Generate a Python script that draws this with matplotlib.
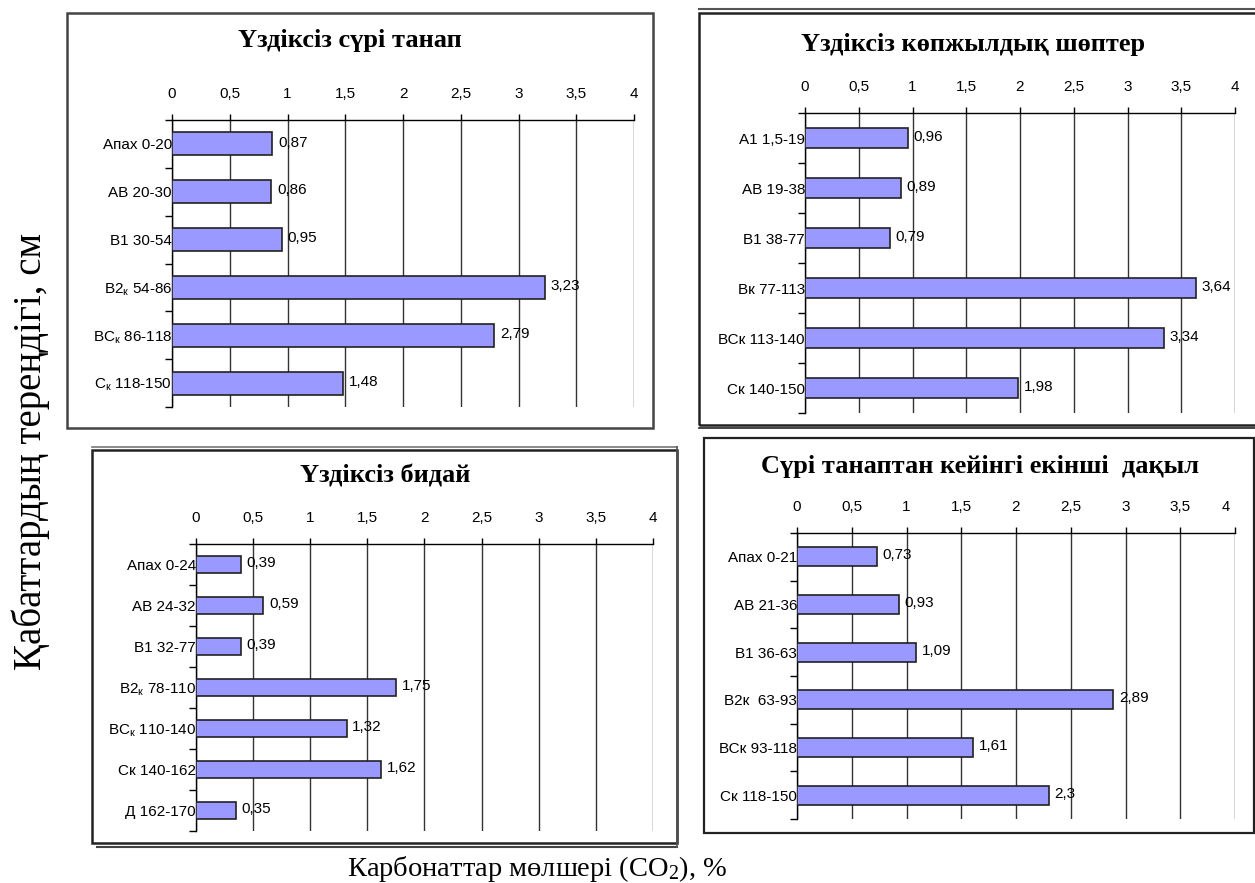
import matplotlib
matplotlib.use("Agg")
import matplotlib.pyplot as plt
from matplotlib.patches import Rectangle
from matplotlib.lines import Line2D
from matplotlib.ticker import FixedLocator

# ---------------- data ----------------
titles = ["Үздіксіз сүрі танап",
          "Үздіксіз көпжылдық шөптер",
          "Үздіксіз бидай",
          "Сүрі танаптан кейінгі екінші  дақыл"]

cats1 = ["Апах 0-20", "АВ 20-30", "В1 30-54", r"В2$_\mathregular{к}$ 54-86",
         r"ВС$_\mathregular{к}$ 86-118", r"С$_\mathregular{к}$ 118-150"]
vals1 = [0.87, 0.86, 0.95, 3.23, 2.79, 1.48]

cats2 = ["А1 1,5-19", "АВ 19-38", "В1 38-77", "Вк 77-113", "ВСк 113-140", "Ск 140-150"]
vals2 = [0.96, 0.89, 0.79, 3.64, 3.34, 1.98]

cats3 = ["Апах 0-24", "АВ 24-32", "В1 32-77", r"В2$_\mathregular{к}$ 78-110",
         r"ВС$_\mathregular{к}$ 110-140", "Ск 140-162", "Д 162-170"]
vals3 = [0.39, 0.59, 0.39, 1.75, 1.32, 1.62, 0.35]

cats4 = ["Апах 0-21", "АВ 21-36", "В1 36-63", "В2к  63-93", "ВСк 93-118", "Ск 118-150"]
vals4 = [0.73, 0.93, 1.09, 2.89, 1.61, 2.3]

xticks = [0, 0.5, 1, 1.5, 2, 2.5, 3, 3.5, 4]
xticklabels = ["0", "0,5", "1", "1,5", "2", "2,5", "3", "3,5", "4"]

ylabel = "Қабаттардың тереңдігі, см"
xlabel = "Карбонаттар мөлшері (CO$_2$), %"

# ---------------- layout ----------------
W, H = 1255, 883
fig = plt.figure(figsize=(W / 100, H / 100), dpi=100)
fig.patch.set_facecolor("white")

SANS = ["Liberation Sans", "DejaVu Sans"]
SERIF = ["Liberation Serif", "DejaVu Serif"]
plt.rcParams["mathtext.fontset"] = "custom"
plt.rcParams["mathtext.rm"] = "Liberation Sans"
plt.rcParams["mathtext.default"] = "regular"

FS = 11


def px_rect(x0, y0, x1, y1):
    return [x0 / W, 1 - y1 / H, (x1 - x0) / W, (y1 - y0) / H]


def fig_line(x0, y0, x1, y1, color="black", lw=1.5):
    fig.add_artist(Line2D([x0 / W, x1 / W], [1 - y0 / H, 1 - y1 / H],
                          transform=fig.transFigure, color=color, lw=lw))


def fig_box(x0, y0, x1, y1, color="black", lw=1.5):
    fig.add_artist(Rectangle((x0 / W, 1 - y1 / H), (x1 - x0) / W, (y1 - y0) / H,
                             transform=fig.transFigure, fill=False,
                             edgecolor=color, lw=lw))


# frames
fig_box(67, 13, 653, 428, color="#444444", lw=1.8)
fig_box(699, 13, 1258, 425, color="#222222", lw=1.8)
fig_line(699, 9, 1255, 9, color="#555555", lw=1.5)
fig_line(699, 428, 1255, 428, color="#222222", lw=1.2)
fig_box(92, 450, 677, 843, color="#222222", lw=1.8)
fig_line(92, 447, 677, 447, color="#777777", lw=1.2)
fig_line(97, 847, 677, 847, color="#444444", lw=1.5)
fig_line(677, 447, 677, 847, color="#555555", lw=1.2)
fig_box(704, 438, 1254, 833, color="#222222", lw=1.6)

panels = [
    dict(rect=px_rect(172, 120, 634, 407), cats=cats1, vals=vals1, title=titles[0],
         bh=0.48, title_xy=(350, 40)),
    dict(rect=px_rect(805, 113, 1235, 413), cats=cats2, vals=vals2, title=titles[1],
         bh=0.4, title_xy=(973, 44)),
    dict(rect=px_rect(196, 544, 653, 831), cats=cats3, vals=vals3, title=titles[2],
         bh=0.42, title_xy=(385, 476)),
    dict(rect=px_rect(797, 533, 1235, 819), cats=cats4, vals=vals4, title=titles[3],
         bh=0.4, title_xy=(980, 466)),
]

for i, p in enumerate(panels):
    ax = fig.add_axes(p["rect"])
    n = len(p["cats"])
    ypos = list(range(n))
    ax.barh(ypos, p["vals"], height=p["bh"], color="#9999FF",
            edgecolor="#222222", linewidth=1.2, zorder=3)
    ax.set_xlim(0, 4)
    ax.set_ylim(n - 0.5, -0.5)

    # x axis on top
    ax.xaxis.tick_top()
    ax.set_xticks(xticks)
    if i == 3:
        ax.set_xticklabels(xticklabels[:-1] + [""])
        ax.annotate("4", xy=(4, 1), xycoords=("data", "axes fraction"),
                    xytext=(-7, 19), textcoords="offset points",
                    ha="center", va="center", fontsize=FS - 0.5, family=SANS)
    else:
        ax.set_xticklabels(xticklabels)
    ax.tick_params(axis="x", which="major", direction="out", length=4,
                   width=1, pad=10, labelsize=FS, top=True, bottom=False)
    for lab in ax.get_xticklabels():
        lab.set_family(SANS)
    ax.grid(axis="x", color="#333333", lw=1.0, zorder=0)

    # y axis
    ax.set_yticks(ypos)
    ax.set_yticklabels(p["cats"])
    for lab in ax.get_yticklabels():
        lab.set_family(SANS)
    ax.yaxis.set_minor_locator(FixedLocator([k - 0.5 for k in range(n + 1)]))
    ax.tick_params(axis="y", which="major", length=0, pad=0, labelsize=FS)
    ax.tick_params(axis="y", which="minor", length=5, width=1, direction="out")

    for s in ["right", "bottom"]:
        ax.spines[s].set_visible(False)
    ax.spines["left"].set_color("black")
    ax.spines["top"].set_color("black")
    ax.spines["left"].set_linewidth(1.0)
    ax.spines["top"].set_linewidth(1.0)
    ax.set_facecolor("none")

    # value labels
    for y, v in zip(ypos, p["vals"]):
        ax.annotate(f"{v:g}".replace(".", ","), xy=(v, y), xytext=(4, 1),
                    textcoords="offset points", ha="left", va="center",
                    fontsize=FS, family=SANS, zorder=4)

    tx, ty = p["title_xy"]
    fig.text(tx / W, 1 - ty / H, p["title"], ha="center", va="center",
             fontsize=19, fontweight="bold", family=SERIF)

fig.text(31 / W, 1 - 452 / H, ylabel, rotation=90, ha="center", va="center",
         fontsize=28, family=SERIF)
fig.text(537 / W, 1 - 869 / H, xlabel, ha="center", va="center",
         fontsize=20.5, family=SERIF)

fig.savefig("out.png", dpi=100, facecolor="white")
